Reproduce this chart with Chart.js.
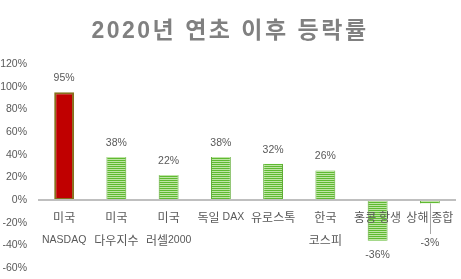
<!DOCTYPE html>
<html>
<head>
<meta charset="utf-8">
<script src="https://cdn.jsdelivr.net/npm/chart.js@4"></script>
<style>
  html, body { margin: 0; padding: 0; background: #fff; }
  #wrap { width: 461px; height: 279px; }
</style>
</head>
<body>
<div id="wrap"><canvas id="mycanvas" width="461" height="279"></canvas></div>
<script>
// 차트 데이터
const chartTitle = '2020년 연초 이후 등락률';
const categories = [
  ['미국', 'NASDAQ'],
  ['미국', '다우지수'],
  ['미국', '러셀2000'],
  ['독일 DAX'],
  ['유로스톡'],
  ['한국', '코스피'],
  ['홍콩 항생'],
  ['상해 종합']
];
const values = [95, 38, 22, 38, 32, 26, -36, -3];
const yTicks = [-60, -40, -20, 0, 20, 40, 60, 80, 100, 120];

const FONT = '"Liberation Sans", "Noto Sans CJK KR", sans-serif';
const KFONT = '12px "Noto Sans CJK KR", sans-serif';
const LFONT = '10.5px "Liberation Sans", sans-serif';

// 초록 줄무늬 패턴
function stripePattern() {
  const c = document.createElement('canvas');
  c.width = 4; c.height = 2;
  const g = c.getContext('2d');
  g.fillStyle = '#5fba31'; g.fillRect(0, 0, 4, 1);
  g.fillStyle = '#bfe5a6'; g.fillRect(0, 1, 4, 1);
  return g.createPattern(c, 'repeat');
}
const stripes = stripePattern();

// 제목 (자간 넓게)
const titlePlugin = {
  id: 'bigTitle',
  afterDraw(chart) {
    const ctx = chart.ctx;
    ctx.save();
    ctx.font = 'bold 23px ' + FONT;
    ctx.fillStyle = '#808080';
    ctx.textAlign = 'center';
    ctx.textBaseline = 'alphabetic';
    ctx.letterSpacing = '2.5px';
    ctx.fillText(chartTitle, 230, 38);
    ctx.restore();
  }
};

// 한글/영문 글꼴 섞어서 한 줄 그리기
function splitRuns(text) {
  const runs = [];
  for (const ch of text) {
    const k = /[\uac00-\ud7a3]/.test(ch) ? 'k' : 'l';
    if (runs.length && runs[runs.length - 1].k === k) runs[runs.length - 1].t += ch;
    else runs.push({ k, t: ch });
  }
  return runs;
}
function drawMixed(ctx, text, cx, cy) {
  const runs = splitRuns(text);
  let total = 0;
  runs.forEach(r => {
    ctx.font = r.k === 'k' ? KFONT : LFONT;
    r.w = ctx.measureText(r.t).width;
    total += r.w;
  });
  let x = cx - total / 2;
  runs.forEach(r => {
    ctx.font = r.k === 'k' ? KFONT : LFONT;
    ctx.fillText(r.t, x, cy);
    x += r.w;
  });
}

// 0% 축선 + 카테고리 라벨 (막대 위에 그림)
const catLabels = {
  id: 'catLabels',
  afterDatasetsDraw(chart) {
    const ctx = chart.ctx;
    const xs = chart.scales.x;
    const y0 = chart.scales.y.getPixelForValue(0);
    const area = chart.chartArea;
    ctx.save();
    ctx.strokeStyle = '#bfbfbf';
    ctx.lineWidth = 2;
    ctx.beginPath();
    ctx.moveTo(area.left, Math.round(y0));
    ctx.lineTo(area.right, Math.round(y0));
    ctx.stroke();

    ctx.fillStyle = '#595959';
    ctx.textAlign = 'left';
    ctx.textBaseline = 'middle';
    categories.forEach((lines, i) => {
      const cx = xs.getPixelForValue(i);
      lines.forEach((ln, j) => drawMixed(ctx, ln, cx, y0 + 17 + j * 23));
    });
    ctx.restore();
  }
};

// 막대 값 라벨
const valueLabels = {
  id: 'valueLabels',
  afterDraw(chart) {
    const ctx = chart.ctx;
    const meta = chart.getDatasetMeta(0);
    const y0 = chart.scales.y.getPixelForValue(0);
    ctx.save();
    ctx.font = '10.5px ' + FONT;
    ctx.fillStyle = '#595959';
    ctx.textAlign = 'center';
    ctx.textBaseline = 'middle';
    meta.data.forEach((bar, i) => {
      const v = values[i];
      if (v >= 0) {
        ctx.fillText(v + '%', bar.x, bar.y - 14);
      } else {
        let y = bar.y + 14;
        // 카테고리 라벨과 겹치면 아래로 내리고 지시선
        if (y < y0 + 43) {
          y = y0 + 43;
          ctx.strokeStyle = '#a6a6a6';
          ctx.lineWidth = 1;
          ctx.beginPath();
          ctx.moveTo(Math.round(bar.x) + 0.5, bar.y);
          ctx.lineTo(Math.round(bar.x) + 0.5, y - 9);
          ctx.stroke();
        }
        ctx.fillText(v + '%', bar.x, y);
      }
    });
    ctx.restore();
  }
};

const ctx = document.querySelector('#mycanvas').getContext('2d');
const myChart = new Chart(ctx, {
  type: 'bar',
  data: {
    labels: categories,
    datasets: [{
      data: values,
      backgroundColor: values.map((v, i) => i === 0 ? '#c00000' : stripes),
      borderColor: values.map((v, i) => i === 0 ? '#86701c' : '#58a82c'),
      borderWidth: values.map((v, i) => i === 0 ? 2 : { left: 1, right: 1, top: 0, bottom: 0 }),
      borderSkipped: false,
      categoryPercentage: 1,
      barPercentage: 0.38
    }]
  },
  plugins: [titlePlugin, catLabels, valueLabels],
  options: {
    responsive: false,
    animation: false,
    layout: { padding: { top: 64, right: 5, left: 0, bottom: 11 } },
    plugins: {
      legend: { display: false },
      tooltip: { enabled: false },
      title: { display: false }
    },
    scales: {
      x: {
        display: false
      },
      y: {
        min: -60,
        max: 120,
        afterBuildTicks(scale) {
          scale.ticks = yTicks.map(v => ({ value: v }));
        },
        afterFit(scale) {
          scale.width = 38;
          // 라벨 여백 때문에 차트 영역이 줄지 않도록
          scale.paddingTop = 0;
          scale.paddingBottom = 0;
        },
        grid: { display: false, drawTicks: false },
        border: { display: false },
        ticks: {
          color: '#595959',
          font: { family: FONT, size: 10.5 },
          padding: 11,
          callback: v => v + '%'
        }
      }
    }
  }
});
</script>
</body>
</html>
